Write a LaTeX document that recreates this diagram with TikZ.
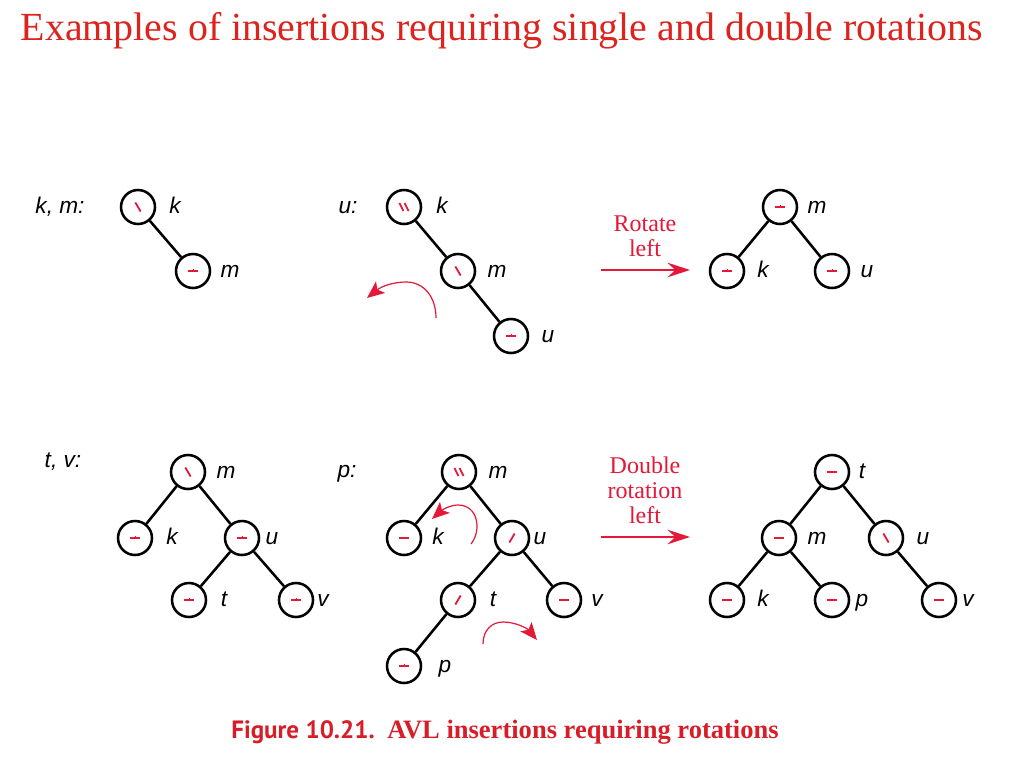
\documentclass[tikz,border=0pt]{standalone}
\usepackage{fontspec}
\setmainfont{Liberation Serif}
\setsansfont{Liberation Sans}
\newfontfamily\capsans{PT Sans}
\usetikzlibrary{arrows.meta}
\definecolor{tred}{RGB}{221,35,30}
\definecolor{mred}{RGB}{228,24,56}
\definecolor{cred}{RGB}{215,30,40}
\tikzset{
  avl/.style={circle, draw=black, line width=1.9pt, minimum size=25.5pt, inner sep=0pt, fill=white},
  edge/.style={line width=1.9pt, black},
  lab/.style={anchor=base, font=\sffamily\itshape\fontsize{17}{20}\selectfont, inner sep=0pt},
  mk/.style={mred, line width=1.35pt},
  bz/.style={path picture={\draw[mk] ([xshift=-3.8pt]path picture bounding box.center) -- ([xshift=3.8pt]path picture bounding box.center);}},
  bt/.style={path picture={\draw[mk] ([xshift=-3.8pt]path picture bounding box.center) -- ([xshift=3.8pt]path picture bounding box.center);
     \draw[mred, line width=0.7pt] (path picture bounding box.center) -- ([yshift=1.8pt]path picture bounding box.center);}},
  bb/.style={path picture={\draw[mk] ([shift={(-2pt,3.4pt)}]path picture bounding box.center) -- ([shift={(2pt,-3.4pt)}]path picture bounding box.center);}},
  bs/.style={path picture={\draw[mk] ([shift={(2pt,3.4pt)}]path picture bounding box.center) -- ([shift={(-2pt,-3.4pt)}]path picture bounding box.center);}},
  bbb/.style={path picture={\draw[mk] ([shift={(-3.4pt,3pt)}]path picture bounding box.center) -- ([shift={(-0.4pt,-3pt)}]path picture bounding box.center);
     \draw[mk] ([shift={(0.4pt,3pt)}]path picture bounding box.center) -- ([shift={(3.4pt,-3pt)}]path picture bounding box.center);}},
  rarrow/.style={mred, line width=1.1pt, -{Stealth[length=17pt,width=11pt,inset=6pt]}},
  carrow/.style={mred, line width=0.9pt, -{Stealth[length=13pt,width=11pt,inset=3pt]}},
  rtext/.style={anchor=base, mred, font=\fontsize{18}{19}\selectfont, inner sep=0pt},
}
\begin{document}
\begin{tikzpicture}[x=0.75pt, y=-0.75pt]
\useasboundingbox (0,0) rectangle (1024,768);
\fill[white] (0,0) rectangle (1024,768);

% title and caption
\node[anchor=base, inner sep=0pt, tred, font=\fontsize{29.9}{36}\selectfont] (title) at (502,40)
  {Examples of insertions requiring single and double rotations};
\node[anchor=base, inner sep=0pt, cred, font=\fontsize{18.8}{22}\selectfont] (cap) at (505,738)
  {{\capsans\bfseries Figure 10.21.}\ \ {\fontsize{19.9}{22}\selectfont\bfseries AVL insertions requiring rotations}};

% ---------- tree 1: k, m
\node[lab] (h1) at (60,213.5) {k, m:};
\node[avl,bb] (a1k) at (138,207) {};
\node[avl,bt] (a1m) at (193,271) {};
\draw[edge] (a1k) -- (a1m);
\node[lab] (a1kl) at (175,213.5) {k};
\node[lab] (a1ml) at (230,277.5) {m};

% ---------- tree 2: u
\node[lab] (h2) at (348,213.5) {u:};
\node[avl,bbb] (a2k) at (404,207) {};
\node[avl,bb] (a2m) at (458,271) {};
\node[avl,bt] (a2u) at (511,336) {};
\draw[edge] (a2k) -- (a2m);
\draw[edge] (a2m) -- (a2u);
\node[lab] (a2kl) at (442,213.5) {k};
\node[lab] (a2ml) at (497,277.5) {m};
\node[lab] (a2ul) at (548,342.5) {u};
\draw[carrow] (436,318) .. controls (436,297) and (424,282) .. (406,282)
  .. controls (394,282) and (382,286) .. (367,298);

% rotate left arrow
\coordinate (r1s) at (601,270);
\coordinate (r1e) at (690,270);
\draw[rarrow] (r1s) -- (r1e);
\node[rtext] (r1a) at (645,231) {Rotate};
\node[rtext] (r1b) at (645,256) {left};

% ---------- tree 3
\node[avl,bt] (a3m) at (780,207) {};
\node[avl,bt] (a3k) at (727,271) {};
\node[avl,bt] (a3u) at (832,271) {};
\draw[edge] (a3m) -- (a3k);
\draw[edge] (a3m) -- (a3u);
\node[lab] (a3ml) at (817,213.5) {m};
\node[lab] (a3kl) at (763,277.5) {k};
\node[lab] (a3ul) at (867,277.5) {u};

% ---------- tree 4: t, v
\node[lab] (h4) at (63,467) {t, v:};
\node[avl,bb] (b4m) at (188,472) {};
\node[avl,bt] (b4k) at (135,538) {};
\node[avl,bt] (b4u) at (242,538) {};
\node[avl,bt] (b4t) at (189,600) {};
\node[avl,bt] (b4v) at (296,600) {};
\draw[edge] (b4m) -- (b4k);
\draw[edge] (b4m) -- (b4u);
\draw[edge] (b4u) -- (b4t);
\draw[edge] (b4u) -- (b4v);
\node[lab] (b4ml) at (226,478.5) {m};
\node[lab] (b4kl) at (172,544.5) {k};
\node[lab] (b4ul) at (272,544.5) {u};
\node[lab] (b4tl) at (224,606.5) {t};
\node[lab] (b4vl) at (323,606.5) {v};

% ---------- tree 5: p
\node[lab] (h5) at (347,477) {p:};
\node[avl,bbb] (b5m) at (459,472) {};
\node[avl,bz] (b5k) at (404,538) {};
\node[avl,bs] (b5u) at (512,538) {};
\node[avl,bs] (b5t) at (458,600) {};
\node[avl,bz] (b5v) at (564,600) {};
\node[avl,bt] (b5p) at (404,666) {};
\draw[edge] (b5m) -- (b5k);
\draw[edge] (b5m) -- (b5u);
\draw[edge] (b5u) -- (b5t);
\draw[edge] (b5u) -- (b5v);
\draw[edge] (b5t) -- (b5p);
\node[lab] (b5ml) at (498,478.5) {m};
\node[lab] (b5kl) at (438,544.5) {k};
\node[lab] (b5ul) at (540,544.5) {u};
\node[lab] (b5tl) at (493,606.5) {t};
\node[lab] (b5vl) at (597,606.5) {v};
\node[lab] (b5pl) at (445,672.5) {p};
\draw[carrow] (471,544) .. controls (482,530) and (478,505) .. (458,505)
  .. controls (450,505) and (442,510) .. (432,519);
\draw[carrow] (483,644) .. controls (483,630) and (492,622) .. (503,622)
  .. controls (515,622) and (527,628) .. (537,640);

% double rotation arrow
\coordinate (r2s) at (601,537);
\coordinate (r2e) at (690,537);
\draw[rarrow] (r2s) -- (r2e);
\node[rtext] (r2a) at (645,473) {Double};
\node[rtext] (r2b) at (645,498) {rotation};
\node[rtext] (r2c) at (645,523) {left};

% ---------- tree 6
\node[avl,bz] (b6t) at (832,472) {};
\node[avl,bz] (b6m) at (779,538) {};
\node[avl,bb] (b6u) at (886,538) {};
\node[avl,bz] (b6k) at (727,600) {};
\node[avl,bz] (b6p) at (832,600) {};
\node[avl,bz] (b6v) at (939,600) {};
\draw[edge] (b6t) -- (b6m);
\draw[edge] (b6t) -- (b6u);
\draw[edge] (b6m) -- (b6k);
\draw[edge] (b6m) -- (b6p);
\draw[edge] (b6u) -- (b6v);
\node[lab] (b6tl) at (862,478.5) {t};
\node[lab] (b6ml) at (817,544.5) {m};
\node[lab] (b6ul) at (923,544.5) {u};
\node[lab] (b6kl) at (763,606.5) {k};
\node[lab] (b6pl) at (862,606.5) {p};
\node[lab] (b6vl) at (968,606.5) {v};
\end{tikzpicture}
\end{document}
